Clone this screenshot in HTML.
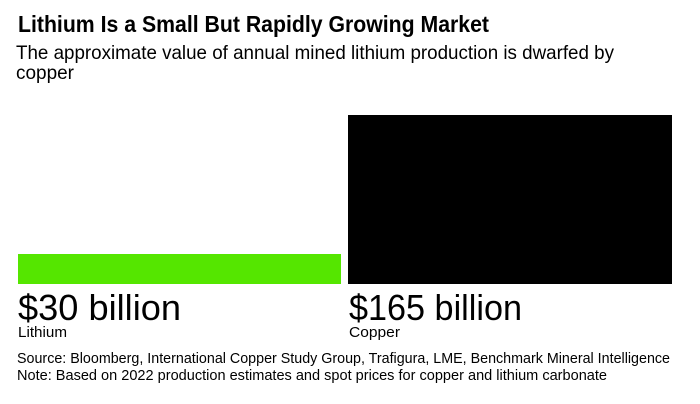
<!DOCTYPE html>
<html><head><meta charset="utf-8"><style>html,body{margin:0;padding:0;background:#fff;}svg{display:block}</style></head>
<body>
<svg width="700" height="404" xmlns="http://www.w3.org/2000/svg" font-family="Liberation Sans, Arial, sans-serif" fill="#000">
<text x="18" y="32" font-size="23" font-weight="bold" textLength="471" lengthAdjust="spacingAndGlyphs">Lithium Is a Small But Rapidly Growing Market</text>
<text x="16" y="59" font-size="19.5" textLength="598" lengthAdjust="spacingAndGlyphs">The approximate value of annual mined lithium production is dwarfed by</text>
<text x="16" y="79" font-size="19.5" textLength="58" lengthAdjust="spacingAndGlyphs">copper</text>
<rect x="18" y="254" width="323" height="30" fill="#55e600"/>
<rect x="348" y="115" width="324" height="169" fill="#000"/>
<text x="18" y="320" font-size="36" textLength="163" lengthAdjust="spacingAndGlyphs">$30 billion</text>
<text x="349" y="320" font-size="36" textLength="173" lengthAdjust="spacingAndGlyphs">$165 billion</text>
<text x="18" y="337" font-size="14.5" textLength="49" lengthAdjust="spacingAndGlyphs">Lithium</text>
<text x="349" y="337" font-size="14.5" textLength="51" lengthAdjust="spacingAndGlyphs">Copper</text>
<text x="17" y="363" font-size="15" textLength="653" lengthAdjust="spacingAndGlyphs">Source: Bloomberg, International Copper Study Group, Trafigura, LME, Benchmark Mineral Intelligence</text>
<text x="17" y="380" font-size="15" textLength="590" lengthAdjust="spacingAndGlyphs">Note: Based on 2022 production estimates and spot prices for copper and lithium carbonate</text>
</svg>
</body></html>
